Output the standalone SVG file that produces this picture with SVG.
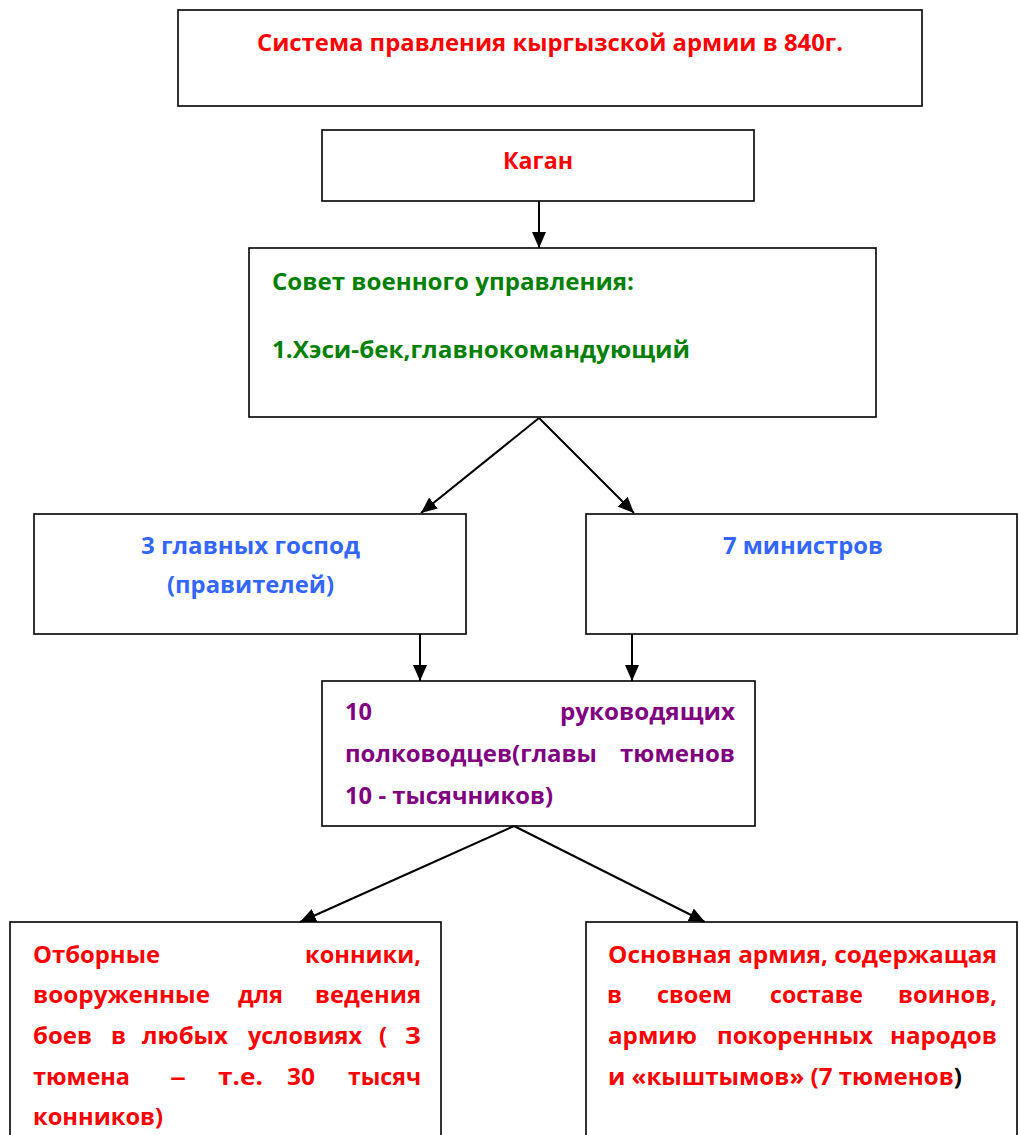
<svg xmlns="http://www.w3.org/2000/svg" width="1019" height="1135" viewBox="0 0 1019 1135">
<style>
.box{fill:#fff;stroke:#000;stroke-width:1.6}
text{font-family:"Open Sans","Noto Sans","Liberation Sans",sans-serif;font-weight:bold;font-size:24px}
.red{fill:#ff0000}.green{fill:#008000}.blue{fill:#3366ff}.purple{fill:#800080}.blk{fill:#000}
.conn{stroke:#000;stroke-width:2;fill:none}
</style>
<defs>
<marker id="arr" markerUnits="userSpaceOnUse" markerWidth="17" markerHeight="14" refX="16" refY="7" orient="auto">
<path d="M0,0 L16,7 L0,14 z" fill="#000"/>
</marker>
</defs>
<rect width="1019" height="1135" fill="#fff"/>

<g id="title">
<rect class="box" x="178" y="10" width="744" height="96"/>
<text class="red" x="257" y="51" textLength="586" lengthAdjust="spacingAndGlyphs">Система правления кыргызской армии в 840г.</text>
</g>

<g id="kagan">
<rect class="box" x="322" y="130" width="432" height="71"/>
<text class="red" x="503" y="169" textLength="70" lengthAdjust="spacingAndGlyphs">Каган</text>
</g>

<g id="sovet">
<rect class="box" x="249" y="248" width="627" height="169"/>
<text class="green" x="272" y="290" textLength="362" lengthAdjust="spacingAndGlyphs">Совет военного управления:</text>
<text class="green" x="272" y="358" textLength="418" lengthAdjust="spacingAndGlyphs">1.Хэси-бек,главнокомандующий</text>
</g>

<g id="gospod">
<rect class="box" x="34" y="514" width="432" height="120"/>
<text class="blue" x="141" y="554" textLength="219" lengthAdjust="spacingAndGlyphs">3 главных господ</text>
<text class="blue" x="167" y="593" textLength="167" lengthAdjust="spacingAndGlyphs">(правителей)</text>
</g>

<g id="ministry">
<rect class="box" x="586" y="514" width="431" height="120"/>
<text class="blue" x="723" y="554" textLength="160" lengthAdjust="spacingAndGlyphs">7 министров</text>
</g>

<g id="polkovodtsy">
<rect class="box" x="322" y="681" width="433" height="145"/>
<text class="purple" x="345" y="720" textLength="27" lengthAdjust="spacingAndGlyphs">10</text>
<text class="purple" x="560" y="720" textLength="175" lengthAdjust="spacingAndGlyphs">руководящих</text>
<text class="purple" x="345" y="762" textLength="252" lengthAdjust="spacingAndGlyphs">полководцев(главы</text>
<text class="purple" x="620" y="762" textLength="115" lengthAdjust="spacingAndGlyphs">тюменов</text>
<text class="purple" x="345" y="804" textLength="208" lengthAdjust="spacingAndGlyphs">10 - тысячников)</text>
</g>

<g id="otbornye">
<rect class="box" x="10" y="922" width="431" height="230"/>
<text class="red" x="33" y="963" textLength="127" lengthAdjust="spacingAndGlyphs">Отборные</text>
<text class="red" x="305" y="963" textLength="116" lengthAdjust="spacingAndGlyphs">конники,</text>
<text class="red" x="33" y="1003" textLength="177" lengthAdjust="spacingAndGlyphs">вооруженные</text>
<text class="red" x="238" y="1003" textLength="45" lengthAdjust="spacingAndGlyphs">для</text>
<text class="red" x="315" y="1003" textLength="106" lengthAdjust="spacingAndGlyphs">ведения</text>
<text class="red" x="33" y="1044" textLength="59" lengthAdjust="spacingAndGlyphs">боев</text>
<text class="red" x="111" y="1044">в</text>
<text class="red" x="142" y="1044" textLength="86" lengthAdjust="spacingAndGlyphs">любых</text>
<text class="red" x="248" y="1044" textLength="114" lengthAdjust="spacingAndGlyphs">условиях</text>
<text class="red" x="379" y="1044">(</text>
<text class="red" x="405" y="1044" textLength="16" lengthAdjust="spacingAndGlyphs">3</text>
<text class="red" x="33" y="1085" textLength="97" lengthAdjust="spacingAndGlyphs">тюмена</text>
<text class="red" x="170" y="1085" textLength="16" lengthAdjust="spacingAndGlyphs">–</text>
<text class="red" x="218" y="1085" textLength="45" lengthAdjust="spacingAndGlyphs">т.е.</text>
<text class="red" x="287" y="1085" textLength="28" lengthAdjust="spacingAndGlyphs">30</text>
<text class="red" x="348" y="1085" textLength="73" lengthAdjust="spacingAndGlyphs">тысяч</text>
<text class="red" x="33" y="1125" textLength="130" lengthAdjust="spacingAndGlyphs">конников)</text>
</g>

<g id="osnovnaya">
<rect class="box" x="586" y="922" width="431" height="230"/>
<text class="red" x="608" y="963" textLength="389" lengthAdjust="spacingAndGlyphs">Основная армия, содержащая</text>
<text class="red" x="607" y="1003">в</text>
<text class="red" x="657" y="1003" textLength="75" lengthAdjust="spacingAndGlyphs">своем</text>
<text class="red" x="770" y="1003" textLength="93" lengthAdjust="spacingAndGlyphs">составе</text>
<text class="red" x="898" y="1003" textLength="99" lengthAdjust="spacingAndGlyphs">воинов,</text>
<text class="red" x="608" y="1044" textLength="89" lengthAdjust="spacingAndGlyphs">армию</text>
<text class="red" x="717" y="1044" textLength="156" lengthAdjust="spacingAndGlyphs">покоренных</text>
<text class="red" x="890" y="1044" textLength="107" lengthAdjust="spacingAndGlyphs">народов</text>
<text x="608" y="1085" textLength="354" lengthAdjust="spacingAndGlyphs"><tspan class="red">и «кыштымов» (7 тюменов</tspan><tspan class="blk">)</tspan></text>
</g>

<g id="connectors">
<line class="conn" x1="539" y1="201" x2="539" y2="248" marker-end="url(#arr)"/>
<line class="conn" x1="539" y1="418" x2="421" y2="513" marker-end="url(#arr)"/>
<line class="conn" x1="539" y1="418" x2="634" y2="513" marker-end="url(#arr)"/>
<line class="conn" x1="420" y1="634" x2="420" y2="681" marker-end="url(#arr)"/>
<line class="conn" x1="632" y1="634" x2="632" y2="681" marker-end="url(#arr)"/>
<line class="conn" x1="514" y1="826" x2="300" y2="922" marker-end="url(#arr)"/>
<line class="conn" x1="514" y1="826" x2="705" y2="922" marker-end="url(#arr)"/>
</g>
</svg>
